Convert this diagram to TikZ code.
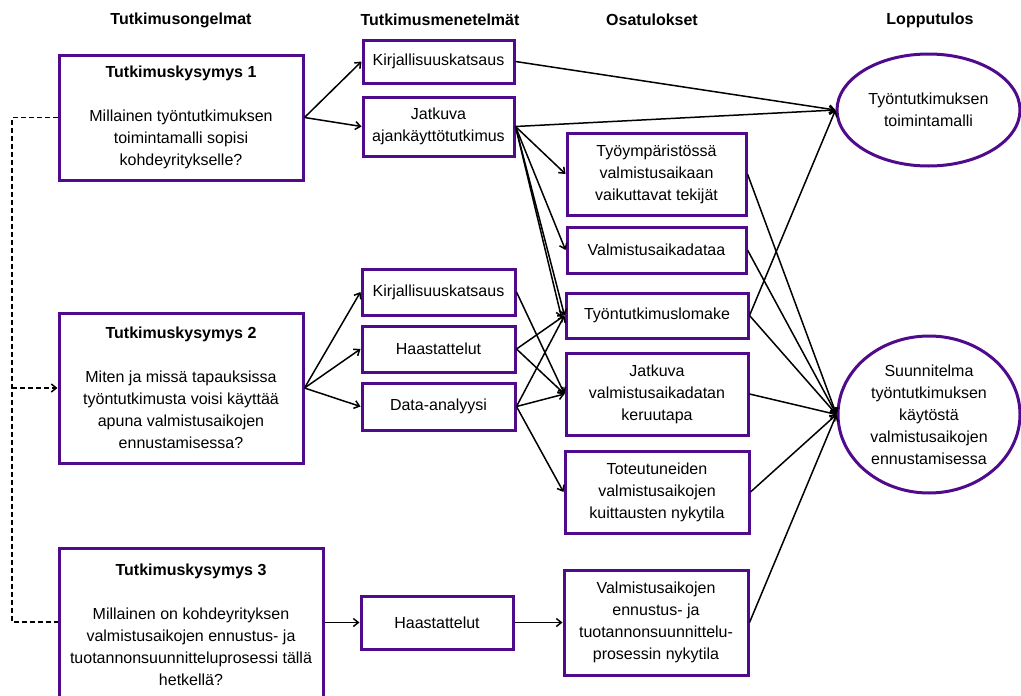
\documentclass[tikz,border=0pt]{standalone}
\usepackage{fontspec}
\setmainfont{Liberation Sans}
\usetikzlibrary{arrows.meta,shapes.geometric}
\definecolor{boxviolet}{RGB}{80,10,140}
\tikzset{
  box/.style={draw=boxviolet, line width=3pt, align=center, inner sep=0pt,
    font=\fontsize{16}{22}\selectfont},
  goal/.style={ellipse, draw=boxviolet, line width=3pt, align=center, inner sep=0pt,
    font=\fontsize{16}{22}\selectfont},
  head/.style={font=\fontsize{16}{22}\selectfont\bfseries},
  link/.style={line width=1.5pt, -{Straight Barb[length=5pt,width=8pt]}},
  dashlink/.style={line width=1.5pt, dash pattern=on 5pt off 3pt}
}
\begin{document}
\begin{tikzpicture}[x=1pt,y=-1pt]
\useasboundingbox (0,0) rectangle (1021,696);

% column headings
\node[head] (h1) at (181,20) {Tutkimusongelmat};
\node[head] (h2) at (440,20) {Tutkimusmenetelmät};
\node[head] (h3) at (652,20) {Osatulokset};
\node[head] (h4) at (930,20) {Lopputulos};

% research questions
\node[box, minimum width=244pt, minimum height=125pt] (q1) at (181,117.5)
  {\textbf{Tutkimuskysymys 1}\\[22pt]Millainen työntutkimuksen\\toimintamalli sopisi\\kohdeyritykselle?};
\node[box, minimum width=244pt, minimum height=150pt] (q2) at (181,388)
  {\textbf{Tutkimuskysymys 2}\\[22pt]Miten ja missä tapauksissa\\työntutkimusta voisi käyttää\\apuna valmistusaikojen\\ennustamisessa?};
\node[box, minimum width=264pt, minimum height=154pt] (q3) at (191,625)
  {\textbf{Tutkimuskysymys 3}\\[22pt]Millainen on kohdeyrityksen\\valmistusaikojen ennustus- ja\\tuotannonsuunnitteluprosessi tällä\\hetkellä?};

% methods
\node[box, minimum width=151pt, minimum height=43pt] (m1) at (438.5,61.5) {Kirjallisuuskatsaus};
\node[box, minimum width=151pt, minimum height=59pt] (m2) at (438.5,126.5) {Jatkuva\\ajankäyttötutkimus};
\node[box, minimum width=153pt, minimum height=46pt] (m3) at (438.5,292) {Kirjallisuuskatsaus};
\node[box, minimum width=153pt, minimum height=46pt] (m4) at (438.5,349) {Haastattelut};
\node[box, minimum width=153pt, minimum height=47pt] (m5) at (438.5,406.5) {Data-analyysi};
\node[box, minimum width=152pt, minimum height=53pt] (m6) at (437,622.5) {Haastattelut};

% partial results
\node[box, minimum width=179pt, minimum height=82pt] (o1) at (656.5,174) {Työympäristössä\\valmistusaikaan\\vaikuttavat tekijät};
\node[box, minimum width=179pt, minimum height=46pt] (o2) at (656.5,250) {Valmistusaikadataa};
\node[box, minimum width=182pt, minimum height=45pt] (o3) at (657,315.5) {Työntutkimuslomake};
\node[box, minimum width=182pt, minimum height=82pt] (o4) at (657,394) {Jatkuva\\valmistusaikadatan\\keruutapa};
\node[box, minimum width=184pt, minimum height=82pt] (o5) at (657,492) {Toteutuneiden\\valmistusaikojen\\kuittausten nykytila};
\node[box, minimum width=184pt, minimum height=105pt] (o6) at (656,622.5) {Valmistusaikojen\\ennustus- ja\\tuotannonsuunnittelu-\\prosessin nykytila};

% final results
\node[goal, minimum width=183pt, minimum height=112pt] (e1) at (928.5,110) {Työntutkimuksen\\toimintamalli};
\node[goal, minimum width=182pt, minimum height=157pt] (e2) at (929,414.5) {Suunnitelma\\työntutkimuksen\\käytöstä\\valmistusaikojen\\ennustamisessa};

% dashed link between the questions
\coordinate (dtop) at (12,117.5);
\coordinate (dmid) at (12,388);
\coordinate (dbot) at (12,622);
\draw[dashlink] (q1.west) -- (dtop) -- (dbot) -- (q3.west |- dbot);
\draw[dashlink, -{Straight Barb[length=5pt,width=8pt]}] (dmid) -- (q2.west);

% questions to methods
\draw[link] (q1.east) -- (m1.west);
\draw[link] (q1.east) -- (m2.west);
\draw[link] (q2.east) -- (m3.west);
\draw[link] (q2.east) -- (m4.west);
\draw[link] (q2.east) -- (m5.west);
\draw[link] (q3.east |- m6.west) -- (m6.west);

% methods to partial results
\draw[link] (m2.east) -- (o1.west);
\draw[link] (m2.east) -- (o2.west);
\draw[link] (m2.east) -- (o3.west);
\draw[link] (m2.east) -- ([xshift=-3pt,yshift=-2pt]o3.west);
\draw[link] (m3.east) -- (o4.west);
\draw[link] (m4.east) -- (o3.west);
\draw[link] (m4.east) -- (o4.west);
\draw[link] (m5.east) -- (o3.west);
\draw[link] (m5.east) -- (o4.west);
\draw[link] (m5.east) -- (o5.west);
\draw[link] (m6.east) -- (o6.west);

% towards the final results
\draw[link] (m1.east) -- (e1.west);
\draw[link] (m2.east) -- (e1.west);
\draw[link] (o3.east) -- (e1.west);
\draw[link] (o1.east) -- (e2.west);
\draw[link] (o2.east) -- (e2.west);
\draw[link] (o3.east) -- (e2.west);
\draw[link] (o4.east) -- (e2.west);
\draw[link] (o5.east) -- (e2.west);
\draw[link] (o6.east) -- (e2.west);
\end{tikzpicture}
\end{document}
